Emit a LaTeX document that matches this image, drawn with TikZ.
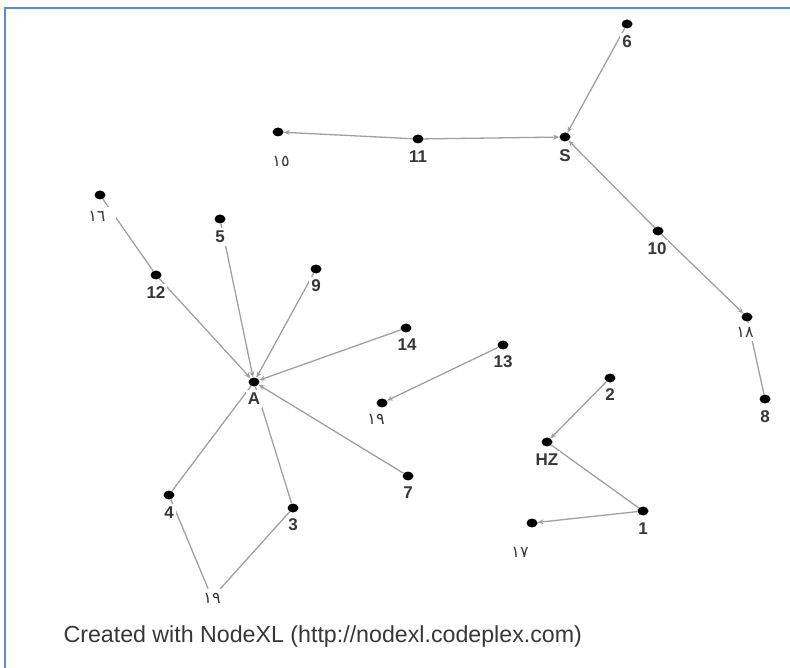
\documentclass[tikz,border=0pt]{standalone}
\usepackage{fontspec}
\setmainfont{Liberation Sans}
\newfontfamily\arabicfont[Script=Arabic]{DejaVu Sans}
\usetikzlibrary{shapes.geometric,arrows.meta,backgrounds}
\definecolor{edgegray}{RGB}{160,160,160}
\definecolor{framebl}{RGB}{91,139,208}
\definecolor{lblgray}{RGB}{55,55,55}
\begin{document}
\begin{tikzpicture}[x=1pt,y=-1pt,
 dot/.style={ellipse,fill=black,minimum width=11pt,minimum height=9pt,inner sep=0pt},
 lbl/.style={font=\fontsize{17}{17}\selectfont\bfseries,text=lblgray,fill=white,inner xsep=2pt,inner ysep=3pt},
 albl/.style={font=\arabicfont\fontsize{16}{16}\selectfont,text=lblgray,fill=white,inner xsep=6pt,inner ysep=4pt},
 edgeline/.style={draw=edgegray,line width=1.3pt},
 arr/.style={edgeline,-{Stealth[length=6pt,width=5pt]}}]
\useasboundingbox (0,0) rectangle (790,668);
\draw[framebl,line width=2.2pt] (5,668) -- (5,8) -- (790,8);

% dots
\node[dot] (n6) at (627,24) {};
\node[dot] (nS) at (565,137) {};
\node[dot] (n11) at (418,139) {};
\node[dot] (n15) at (278,132) {};
\node[dot] (n16) at (100,195) {};
\node[dot] (n5) at (220,219) {};
\node[dot] (n12) at (156,275) {};
\node[dot] (n9) at (316,269) {};
\node[dot] (n14) at (406,328) {};
\node[dot] (nA) at (254,382) {};
\node[dot] (n13) at (503,345) {};
\node[dot] (n19) at (382,403) {};
\node[dot] (n10) at (658,231) {};
\node[dot] (n18) at (747,317) {};
\node[dot] (n8) at (765,399) {};
\node[dot] (n2) at (610,378) {};
\node[dot] (nHZ) at (547,442) {};
\node[dot] (n1) at (643,511) {};
\node[dot] (n17) at (532,523) {};
\node[dot] (n4) at (169,495) {};
\node[dot] (n3) at (293,508) {};
\node[dot] (n7) at (408,476) {};

% labels
\node[lbl] (l6) at (627,42) {6};
\node[lbl] (lS) at (565,156) {S};
\node[lbl] (l11) at (418,157) {11};
\node[albl] (l15) at (281,161) {١٥};
\node[albl, inner xsep=10pt] (l16) at (97,216) {١٦};
\node[lbl] (l5) at (220,237) {5};
\node[lbl] (l12) at (156,293) {12};
\node[lbl] (l9) at (316,286) {9};
\node[lbl] (l14) at (407,345) {14};
\node[lbl] (lA) at (254,399) {A};
\node[lbl] (l13) at (503,362) {13};
\node[albl] (l19) at (376,419) {١٩};
\node[lbl] (l10) at (657,249) {10};
\node[albl] (l18) at (745,332) {١٨};
\node[lbl] (l8) at (765,417) {8};
\node[lbl] (l2) at (610,395) {2};
\node[lbl] (lHZ) at (547,460) {HZ};
\node[lbl] (l1) at (643,529) {1};
\node[albl] (l17) at (520,552) {١٧};
\node[lbl] (l4) at (169,513) {4};
\node[lbl] (l3) at (293,525) {3};
\node[lbl] (l7) at (408,493) {7};
\node[albl] (b19) at (212,598) {١٩};

\node[font=\fontsize{23.2}{25}\selectfont,text=lblgray,anchor=west] (foot) at (60,636) {Created with NodeXL (http://nodexl.codeplex.com)};

\begin{scope}[on background layer]
\draw[arr] (n6) -- (nS);
\draw[arr] (n11) -- (nS);
\draw[arr] (n11) -- (n15);
\draw[arr] (n10) -- (nS);
\draw[arr] (n10) -- (n18);
\draw[edgeline] (n18) -- (n8);
\draw[edgeline] (n16) -- (n12);
\draw[arr] (n12) -- (nA);
\draw[arr] (n5) -- (nA);
\draw[arr] (n9) -- (nA);
\draw[arr] (n14) -- (nA);
\draw[arr] (n7) -- (nA);
\draw[edgeline] (n4) -- (nA);
\draw[edgeline] (n3) -- (nA);
\draw[arr] (n13) -- (n19);
\draw[arr] (n2) -- (nHZ);
\draw[edgeline] (n1) -- (nHZ);
\draw[arr] (n1) -- (n17);
\draw[edgeline] (n4) -- (b19);
\draw[edgeline] (n3) -- (b19);
\end{scope}
\end{tikzpicture}
\end{document}
